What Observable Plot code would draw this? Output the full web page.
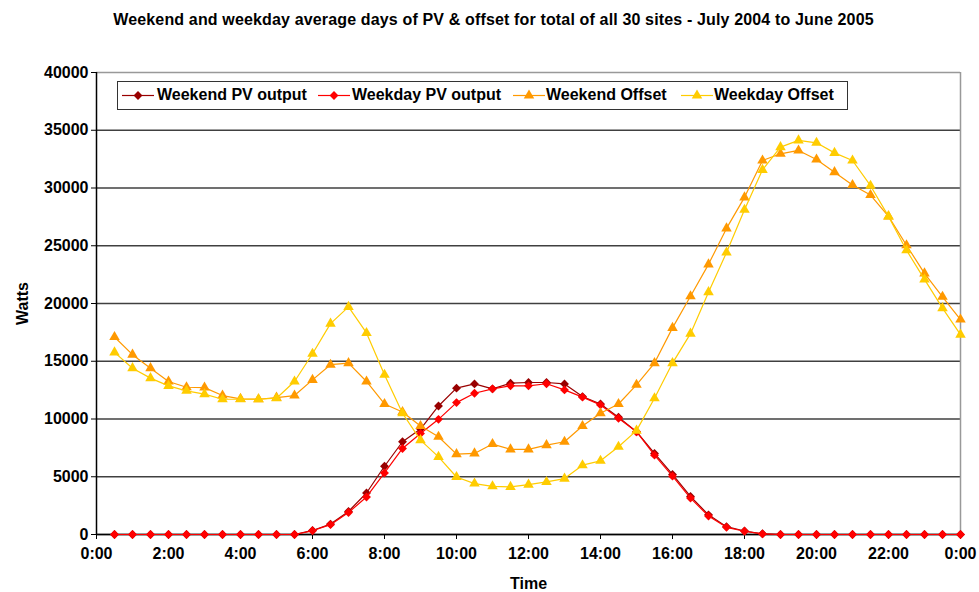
<!DOCTYPE html>
<html>
<head>
<meta charset="utf-8">
<script src="https://cdn.jsdelivr.net/npm/d3@7"></script>
<script src="https://cdn.jsdelivr.net/npm/@observablehq/plot@0.6"></script>
<style>
  html, body { margin: 0; padding: 0; background: #fff; }
  #wrap { position: relative; width: 979px; height: 592px; font-family: "Liberation Sans", Arial, sans-serif; }
  #title { height: 36px; line-height: 39px; text-align: center; font-size: 16px; font-weight: bold; color: #000; padding-left: 8px; letter-spacing: 0.15px; white-space: nowrap; }
  #legend { position: absolute; left: 117px; top: 81px; width: 731px; height: 29px; box-sizing: border-box; border: 1px solid #333; background: #fff; }
  .item { position: absolute; top: 0; height: 27px; }
  .item svg { position: absolute; top: 0; left: 0; }
  .item span { position: absolute; top: 4px; white-space: nowrap; font-size: 16px; font-weight: bold; line-height: 18px; color: #000; }
</style>
</head>
<body>
<div id="wrap">
  <div id="title">Weekend and weekday average days of PV &amp; offset for total of all 30 sites - July 2004 to June 2005</div>
  <div id="chart"></div>
  <div id="legend"></div>
</div>
<script>
// Time of day in hours (half-hour readings 0:30 ... 24:00)
const times = [0.5,1,1.5,2,2.5,3,3.5,4,4.5,5,5.5,6,6.5,7,7.5,8,8.5,9,9.5,10,10.5,11,11.5,12,
               12.5,13,13.5,14,14.5,15,15.5,16,16.5,17,17.5,18,18.5,19,19.5,20,20.5,21,21.5,22,22.5,23,23.5,24];

const weekendPV = [0,0,0,0,0,0,0,0,0,0,0,
  350,900,2000,3590,5910,8030,9130,11130,12670,13040,12610,13100,13160,13160,13040,11940,11300,10150,8900,7020,5200,3300,1700,680,300,60,
  0,0,0,0,0,0,0,0,0,0,0];
const weekdayPV = [0,0,0,0,0,0,0,0,0,0,0,
  320,850,1900,3250,5330,7450,8750,9970,11420,12230,12610,12870,12870,13050,12520,11890,11220,10060,8900,6870,5050,3150,1600,620,280,50,
  0,0,0,0,0,0,0,0,0,0,0];
const weekendOffset = [17100,15570,14400,13250,12750,12720,12030,11740,11710,11850,12030,13390,14700,14840,
  13250,11300,10600,9390,8460,6960,7020,7830,7370,7370,7740,8030,9390,10500,11300,12960,14840,
  17890,20630,23390,26500,29190,32380,32960,33250,32460,31370,30260,29390,27540,25040,22610,20580,18610];
const weekdayOffset = [15770,14400,13540,12870,12440,12150,11710,11710,11710,11800,13250,15650,18260,19710,
  17450,13830,10500,8170,6720,4980,4410,4170,4120,4320,4550,4840,6000,6380,7600,8990,11800,
  14840,17390,20980,24410,28110,31570,33540,34120,33910,33040,32380,30200,27540,24610,22090,19600,17300];

const seriesNames = ["Weekend PV output", "Weekday PV output", "Weekend Offset", "Weekday Offset"];
const seriesColors = ["#990000", "#FF0000", "#FF9900", "#FFCC00"];
const seriesSymbols = ["diamond2", "diamond2", "triangle", "triangle"];
const seriesR = [4, 4, 3.9, 3.9];
const seriesValues = [weekendPV, weekdayPV, weekendOffset, weekdayOffset];

const xTicks = [0,2,4,6,8,10,12,14,16,18,20,22,24];
const yTicks = [0,5000,10000,15000,20000,25000,30000,35000,40000];

const marks = [
  Plot.ruleY(yTicks.filter(d => d < 40000), {stroke: "#404040", strokeWidth: 1.5}),
  Plot.ruleY([40000], {stroke: "#999", strokeWidth: 1.5}),
  Plot.ruleX([24], {stroke: "#999", strokeWidth: 1.5}),
  Plot.axisY({ticks: yTicks, tickFormat: d => String(d), tickSize: 5, tickPadding: 3,
    label: "Watts", labelAnchor: "center", labelArrow: "none", labelOffset: 80}),
  Plot.axisX({ticks: xTicks, tickFormat: h => `${h % 24}:00`, tickSize: 5, tickPadding: 8,
    label: "Time", labelAnchor: "center", labelArrow: "none", labelOffset: 54}),
  Plot.ruleX([0], {stroke: "#000", strokeWidth: 1.5}),
  Plot.ruleY([0], {stroke: "#000", strokeWidth: 1.5})
];

seriesValues.forEach((vals, i) => {
  const rows = times.map((t, j) => ({t, v: vals[j]}));
  marks.push(Plot.line(rows, {x: "t", y: "v", stroke: seriesColors[i], strokeWidth: 1.2}));
  marks.push(Plot.dot(rows, {x: "t", y: "v", symbol: seriesSymbols[i], r: seriesR[i], fill: seriesColors[i], stroke: "none"}));
});

const chart = Plot.plot({
  width: 979,
  height: 556,
  marginTop: 36,
  marginBottom: 58,
  marginLeft: 96,
  marginRight: 19,
  x: {domain: [0, 24]},
  y: {domain: [0, 40000]},
  style: {fontFamily: "'Liberation Sans', Arial, sans-serif", fontSize: "16px", fontWeight: "bold", color: "#000", background: "#fff", overflow: "visible"},
  marks
});
document.getElementById("chart").appendChild(chart);

// Legend
const legend = document.getElementById("legend");
const swatchLeft = [4, 200, 395, 563];
const textLeft = [39, 234, 428, 596];
seriesNames.forEach((name, i) => {
  const item = document.createElement("div");
  item.className = "item";
  item.style.left = swatchLeft[i] + "px";
  const svg = d3.create("svg").attr("width", 32).attr("height", 27);
  svg.append("line").attr("x1", 0).attr("x2", 32).attr("y1", 13.5).attr("y2", 13.5)
     .attr("stroke", seriesColors[i]).attr("stroke-width", 1.2);
  const sym = seriesSymbols[i] === "triangle" ? d3.symbolTriangle : d3.symbolDiamond2;
  const size = seriesR[i] * seriesR[i] * Math.PI;
  svg.append("path").attr("d", d3.symbol(sym, size)()).attr("transform", "translate(16,13.5)")
     .attr("fill", seriesColors[i]);
  item.appendChild(svg.node());
  const span = document.createElement("span");
  span.textContent = name;
  span.style.left = (textLeft[i] - swatchLeft[i]) + "px";
  item.appendChild(span);
  legend.appendChild(item);
});
</script>
</body>
</html>
